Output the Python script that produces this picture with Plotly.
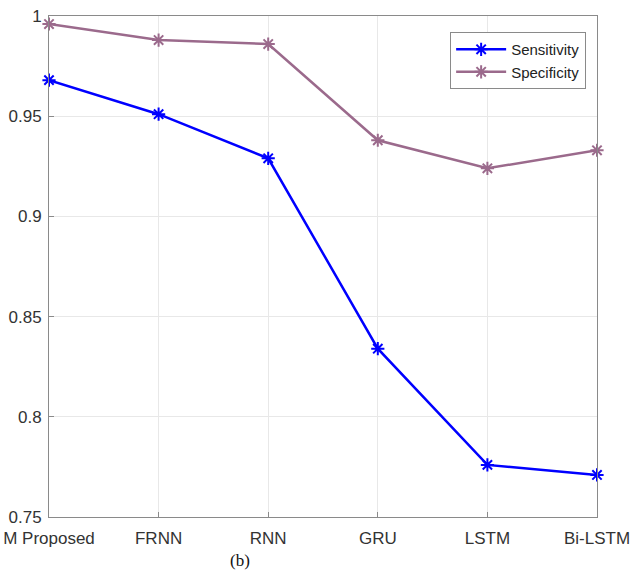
import plotly.graph_objects as go

categories = ["M Proposed", "FRNN", "RNN", "GRU", "LSTM", "Bi-LSTM"]
sensitivity = [0.968, 0.951, 0.929, 0.834, 0.776, 0.771]
specificity = [0.996, 0.988, 0.986, 0.938, 0.924, 0.933]
y_ticks = [0.75, 0.8, 0.85, 0.9, 0.95, 1.0]
y_tick_labels = ["0.75", "0.8", "0.85", "0.9", "0.95", "1"]

xs = list(range(len(categories)))

fig = go.Figure()
fig.add_trace(go.Scatter(
    x=xs, y=sensitivity, name="Sensitivity", mode="lines+markers",
    line=dict(color="#0000FF", width=2.5),
    marker=dict(symbol="asterisk-open", size=11, color="#0000FF", line=dict(width=2, color="#0000FF")),
    cliponaxis=False,
))
fig.add_trace(go.Scatter(
    x=xs, y=specificity, name="Specificity", mode="lines+markers",
    line=dict(color="#9B6A8C", width=2.5),
    marker=dict(symbol="asterisk-open", size=11, color="#9B6A8C", line=dict(width=2, color="#9B6A8C")),
    cliponaxis=False,
))

axis_common = dict(
    showline=True, linecolor="#8a8a8a", linewidth=1, mirror=True,
    showgrid=True, gridcolor="#e8e8e8", gridwidth=1,
    ticks="inside", ticklen=5, tickcolor="#8a8a8a",
    zeroline=False, automargin=False,
    tickfont=dict(family="Liberation Sans, Arial, sans-serif", size=17, color="#333333"),
)

fig.update_layout(
    width=632, height=571,
    margin=dict(l=49, r=35, t=16, b=54),
    paper_bgcolor="white", plot_bgcolor="white",
    showlegend=True,
    legend=dict(
        x=0.732, y=0.968, xanchor="left", yanchor="top",
        bordercolor="#8a8a8a", borderwidth=1, bgcolor="white",
        font=dict(family="Liberation Sans, Arial, sans-serif", size=15, color="#222222"),
        tracegroupgap=0, itemwidth=50,
    ),
    xaxis=dict(
        range=[0, 5], tickmode="array", tickvals=xs, ticktext=categories,
        ticklabelstandoff=6,
        **axis_common,
    ),
    yaxis=dict(
        range=[0.75, 1.0], tickmode="array", tickvals=y_ticks, ticktext=y_tick_labels,
        ticklabelstandoff=3,
        **axis_common,
    ),
    annotations=[dict(
        text="(b)", x=0.349, y=-0.086, xref="paper", yref="paper",
        showarrow=False, xanchor="center", yanchor="middle",
        font=dict(family="Liberation Serif, Times New Roman, serif", size=17, color="#111111"),
    )],
)

fig.write_html("out.html")
